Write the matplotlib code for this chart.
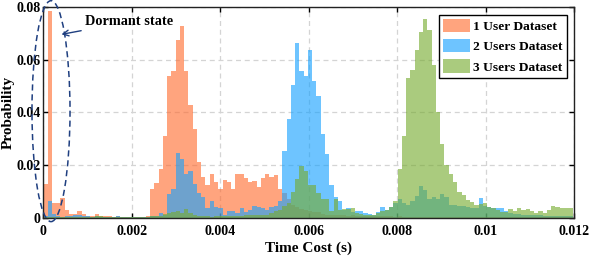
import numpy as np
import matplotlib
matplotlib.use("Agg")
import matplotlib.pyplot as plt
from matplotlib.patches import Ellipse

# ---- data (per-bin probabilities) ----
bin_width = 0.0965e-3
n_bins = 124

user1 = [0.013, 0.0785, 0.0055, 0.0057, 0.0075, 0.003, 0.0014, 0.0014, 0.0025, 0.0013,
         0.0008, 0.0008, 0.0015, 0.0006, 0.0005, 0.0005, 0.0004, 0.0005, 0.0004, 0.0003,
         0.0004, 0.0003, 0.0003, 0.0004, 0.0006, 0.0111, 0.0133, 0.0187, 0.031, 0.0537,
         0.0556, 0.0677, 0.0728, 0.0556, 0.0427, 0.0339, 0.0212, 0.0155, 0.0124, 0.0168,
         0.0137, 0.0111, 0.0143, 0.0137, 0.0111, 0.0168, 0.0168, 0.0152, 0.0137, 0.0139,
         0.0118, 0.015, 0.0168, 0.0154, 0.0162, 0.011, 0.0094, 0.007, 0.005, 0.004,
         0.0032, 0.003, 0.0025, 0.002, 0.002, 0.0015, 0.0012, 0.001, 0.0011, 0.0009,
         0.001, 0.0008, 0.0009, 0.0008, 0.0007, 0.0008, 0.0006, 0.0006, 0.0005, 0.0006,
         0.0005, 0.0005, 0.0004, 0.0005, 0.0004, 0.0004, 0.0004, 0.0003, 0.0004, 0.0003,
         0.0003, 0.0003, 0.0003, 0.0002, 0.0003, 0.0002, 0.0002, 0.0002, 0.0002, 0.0002,
         0.0002, 0.0002, 0.0002, 0.0001, 0.0002, 0.0001, 0.0001, 0.0001, 0.0001, 0.0001,
         0.0001, 0.0001, 0.0001, 0.0001, 0.0001, 0.0001, 0.0001, 0.0001, 0.0001, 0.0001,
         0.0001, 0.0001, 0.0001, 0.0001]

user2 = [0.0008, 0.0064, 0.0015, 0.0005, 0.0004, 0.0005, 0.0008, 0.001, 0.001, 0.0006,
         0.0005, 0.0004, 0.0006, 0.0004, 0.0003, 0.0004, 0.0003, 0.0005, 0.0003, 0.0002,
         0.0003, 0.0002, 0.0003, 0.0002, 0.0003, 0.0005, 0.0008, 0.0017, 0.001, 0.009,
         0.0111, 0.0247, 0.0223, 0.0166, 0.0177, 0.013, 0.0095, 0.008, 0.0036, 0.0063,
         0.0039, 0.0036, 0.001, 0.0025, 0.0025, 0.0017, 0.0036, 0.0022, 0.0028, 0.0045,
         0.0039, 0.0036, 0.0028, 0.0039, 0.0045, 0.0063, 0.0253, 0.0377, 0.0503, 0.0665,
         0.0556, 0.0537, 0.0636, 0.0518, 0.0461, 0.032, 0.0244, 0.0124, 0.008, 0.0063,
         0.0029, 0.0036, 0.002, 0.0027, 0.0025, 0.0017, 0.0015, 0.001, 0.002, 0.0039,
         0.0029, 0.0041, 0.0055, 0.007, 0.0055, 0.0049, 0.0062, 0.0083, 0.012, 0.0107,
         0.0071, 0.008, 0.0071, 0.0091, 0.008, 0.0049, 0.0048, 0.0045, 0.0045, 0.004,
         0.0038, 0.0035, 0.0075, 0.0043, 0.004, 0.0036, 0.0037, 0.0036, 0.0025, 0.0017,
         0.0015, 0.0014, 0.0012, 0.0012, 0.001, 0.001, 0.0009, 0.0008, 0.0008, 0.0007,
         0.0007, 0.0006, 0.0006, 0.0005]

user3 = [0.0002, 0.0003, 0.0002, 0.0002, 0.0003, 0.0002, 0.0003, 0.0003, 0.0004, 0.0003,
         0.0003, 0.0003, 0.0008, 0.0006, 0.0003, 0.0003, 0.0002, 0.0003, 0.0002, 0.0003,
         0.0002, 0.0003, 0.0003, 0.0004, 0.0004, 0.0005, 0.0006, 0.0008, 0.0015, 0.0017,
         0.002, 0.0025, 0.0017, 0.0034, 0.0017, 0.0012, 0.0008, 0.0005, 0.0006, 0.0004,
         0.0005, 0.0006, 0.0005, 0.0006, 0.0007, 0.0008, 0.0007, 0.0009, 0.001, 0.0012,
         0.0011, 0.0012, 0.0012, 0.0017, 0.0025, 0.003, 0.0045, 0.0055, 0.0098, 0.0146,
         0.0196, 0.0176, 0.0126, 0.0126, 0.0095, 0.0072, 0.007, 0.0025, 0.007, 0.003,
         0.0034, 0.0034, 0.0036, 0.0017, 0.0014, 0.001, 0.001, 0.0009, 0.0017, 0.0025,
         0.003, 0.004, 0.0065, 0.0186, 0.031, 0.0531, 0.056, 0.0636, 0.0706, 0.0754,
         0.0715, 0.0579, 0.04, 0.0279, 0.0199, 0.0166, 0.0137, 0.0099, 0.0086, 0.0067,
         0.006, 0.0048, 0.0052, 0.0055, 0.004, 0.0036, 0.003, 0.0023, 0.0021, 0.0032,
         0.0027, 0.0036, 0.003, 0.0032, 0.0024, 0.0017, 0.0024, 0.0017, 0.003, 0.0045,
         0.004, 0.0036, 0.0036, 0.0036]

labels = ["1 User Dataset", "2 Users Dataset", "3 Users Dataset"]
colors = ["#FF6C2F", "#15A1FF", "#76AB2F"]
xticks = [0, 0.002, 0.004, 0.006, 0.008, 0.01, 0.012]
xticklabels = ["0", "0.002", "0.004", "0.006", "0.008", "0.01", "0.012"]
yticks = [0, 0.02, 0.04, 0.06, 0.08]
yticklabels = ["0", "0.02", "0.04", "0.06", "0.08"]

# ---- figure ----
plt.rcParams["font.family"] = ["Liberation Serif", "DejaVu Serif"]
plt.rcParams["font.weight"] = "bold"

fig = plt.figure(figsize=(5.9, 2.56), dpi=100)
ax = fig.add_axes([0.0734, 0.1496, 0.8995, 0.822])

edges = np.arange(n_bins + 1) * bin_width
centers = (edges[:-1] + edges[1:]) / 2
for vals, lab, col in zip([user1, user2, user3], labels, colors):
    ax.hist(centers, bins=edges, weights=vals, color=col, alpha=0.62,
            label=lab, histtype="bar", rwidth=1.0, linewidth=0, zorder=2)

ax.set_xlim(0, 0.012)
ax.set_ylim(0, 0.08)
ax.set_xticks(xticks)
ax.set_xticklabels(xticklabels)
ax.set_yticks(yticks)
ax.set_yticklabels(yticklabels)
ax.tick_params(direction="in", top=True, right=True, length=3.5, width=1,
               labelsize=10)
ax.tick_params(axis="x", pad=5)
ax.tick_params(axis="y", pad=2)
for lab in ax.get_xticklabels() + ax.get_yticklabels():
    lab.set_fontweight("bold")
for sp in ax.spines.values():
    sp.set_linewidth(1.0)
    sp.set_color("#222222")
    sp.set_zorder(5)

ax.grid(True, linestyle=(0, (4, 3)), color="#d4d4d4", linewidth=0.9, zorder=0)
ax.set_axisbelow(True)

ax.set_xlabel("Time Cost (s)", fontsize=11, fontweight="bold", labelpad=3)
ax.set_ylabel("Probability", fontsize=11, fontweight="bold", labelpad=1)

leg = ax.legend(loc="upper right", fontsize=9.7, frameon=True, fancybox=False,
                edgecolor="black", framealpha=1, handlelength=2.0,
                handleheight=1.15, labelspacing=0.45, handletextpad=0.2,
                borderpad=0.3, borderaxespad=0.55)
leg.get_frame().set_linewidth(1.0)
for t in leg.get_texts():
    t.set_fontweight("bold")

# dormant state annotation
ell = Ellipse((0.000174, 0.0405), 0.00086, 0.084, fill=False,
              edgecolor="#1F3F80", linestyle=(0, (4, 2.5)), linewidth=1.1,
              clip_on=False, zorder=6)
ax.add_patch(ell)
ax.annotate("Dormant state", xy=(0.00041, 0.0697), xytext=(0.00095, 0.0745),
            fontsize=10.3, fontweight="bold", color="black", va="center", ha="left",
            arrowprops=dict(arrowstyle="->", color="#1F3F80", lw=1.0,
                            shrinkA=1, shrinkB=0), zorder=7)

fig.savefig("out.png", dpi=100)
